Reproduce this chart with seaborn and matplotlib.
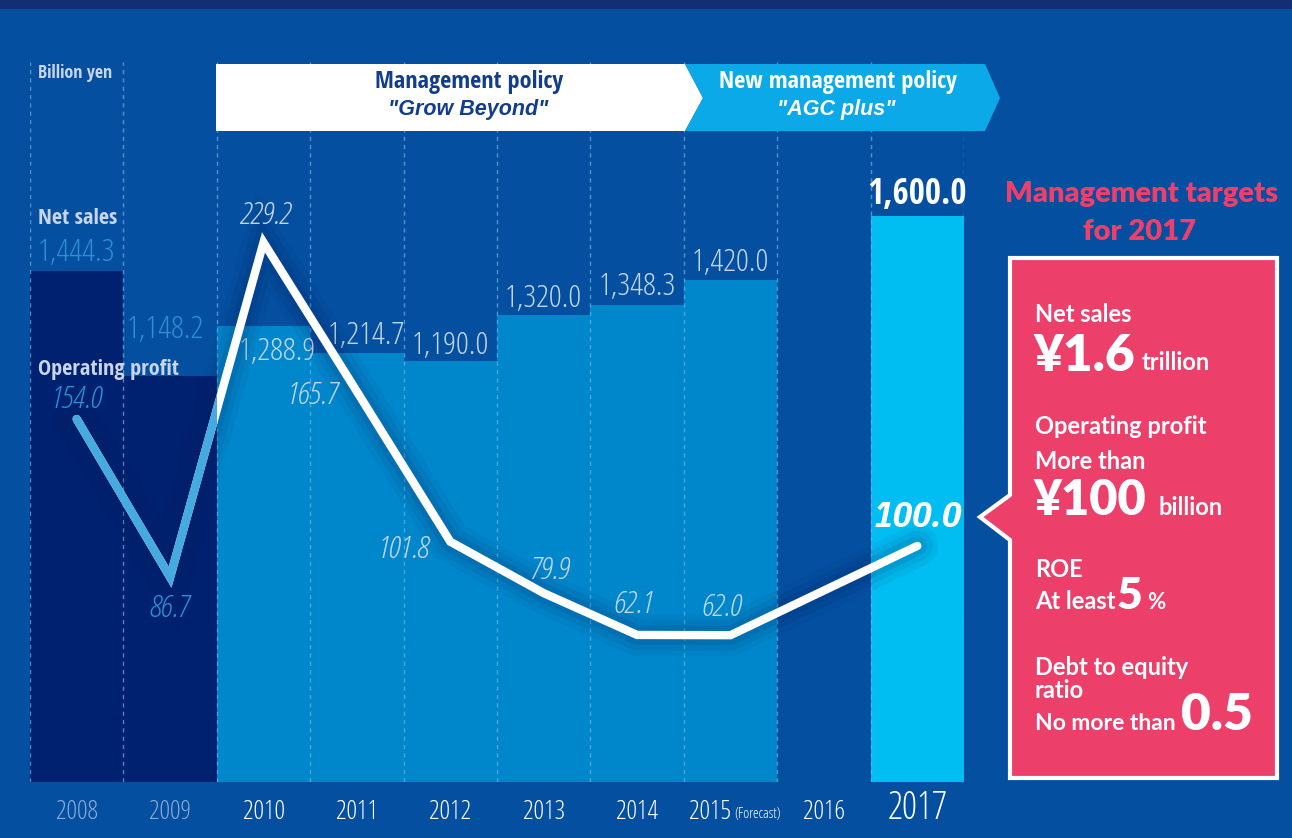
import numpy as np
import pandas as pd
import matplotlib
matplotlib.use("Agg")
import matplotlib.pyplot as plt
import seaborn as sns
from matplotlib.patches import Polygon, Rectangle
import matplotlib.patheffects as pe

# ---------------- data ----------------
years = ["2008", "2009", "2010", "2011", "2012", "2013", "2014", "2015", "2016", "2017"]
sales_years = ["2008", "2009", "2010", "2011", "2012", "2013", "2014", "2015", "2017"]
net_sales = [1444.3, 1148.2, 1288.9, 1214.7, 1190.0, 1320.0, 1348.3, 1420.0, 1600.0]
sales_labels = ["1,444.3", "1,148.2", "1,288.9", "1,214.7", "1,190.0", "1,320.0", "1,348.3", "1,420.0", "1,600.0"]
profit_years = ["2008", "2009", "2010", "2011", "2012", "2013", "2014", "2015", "2017"]
op_profit = [154.0, 86.7, 229.2, 165.7, 101.8, 79.9, 62.1, 62.0, 100.0]
profit_labels = ["154.0", "86.7", "229.2", "165.7", "101.8", "79.9", "62.1", "62.0", "100.0"]

# ---------------- style ----------------
W, H = 1292, 838
BG = "#054FA0"
NAVY = "#00216F"
MID = "#0087CB"
CYAN = "#00BDF2"
PINK = "#EC406B"
LBLUE = "#45AAE0"
PALE = "#C4D6EC"
DIMBLUE = "#2A90D2"

sns.set_theme(style="white")
plt.rcParams["font.family"] = ["Open Sans", "DejaVu Sans"]
LIGHT = dict(family=["Open Sans", "DejaVu Sans"], fontstretch="condensed", fontweight="light")
CBOLD = dict(family=["Open Sans Condensed", "DejaVu Sans"], fontweight="bold")
CBI = dict(family=["IBM Plex Sans Condensed", "DejaVu Sans"], fontweight="bold", style="italic")
HUM = ["Lato", "DejaVu Sans"]


def P(x, y):
    return (x / W, 1 - y / H)


fig = plt.figure(figsize=(W / 100, H / 100), dpi=100)
fig.patch.set_facecolor(BG)
fig.patches.append(Rectangle(P(0, 9), 1, 9 / H, transform=fig.transFigure,
                             facecolor="#112F72", edgecolor="none", zorder=0))

ax = fig.add_axes([30 / W, 56 / H, 934 / W, 720 / H])
ax.set_facecolor("none")

bar_palette = {"2008": NAVY, "2009": NAVY, "2010": MID, "2011": MID, "2012": MID,
               "2013": MID, "2014": MID, "2015": MID, "2016": MID, "2017": CYAN}
df = pd.DataFrame({"year": sales_years, "sales": net_sales})
sns.barplot(data=df, x="year", y="sales", order=years, hue="year", hue_order=years,
            palette=bar_palette, width=1.0, linewidth=0, saturation=1,
            legend=False, ax=ax, zorder=1)
ax.set_xlim(-0.5, 9.5)
ax.set_ylim(0, 2037)
for s in ax.spines.values():
    s.set_visible(False)
ax.set_xticks([])
ax.set_yticks([])
ax.set_xlabel("")
ax.set_ylabel("")

# dashed column separators
for b in np.arange(-0.5, 10.0, 1.0):
    ax.axvline(b, color="#6FB2EA", lw=1.0, ls=(0, (3, 3)), alpha=0.7, zorder=2)

# net sales labels
s_off = [(0, 18), (-5, 46), (14, -26), (9, 17), (0, 15), (0, 16), (0, 18), (0, 17), (0, 21)]
for yr, v, lab, off in zip(sales_years, net_sales, sales_labels, s_off):
    i = years.index(yr)
    if yr == "2017":
        kw = dict(color="white", fontsize=25, **CBOLD)
    elif yr in ("2008", "2009"):
        kw = dict(color=DIMBLUE, fontsize=23, **LIGHT)
    else:
        kw = dict(color=PALE, fontsize=23, **LIGHT)
    ax.annotate(lab, (i, v), xytext=off, textcoords="offset pixels", ha="center",
                va="center", zorder=6, **kw)

# year labels
for i, yr in enumerate(years):
    col = "#8AAAD6" if yr in ("2008", "2009") else "white"
    fs = 27 if yr == "2017" else 19
    if yr == "2015":
        ax.annotate("2015", (i, 0), xytext=(1, -30), textcoords="offset pixels",
                    xycoords=("data", "axes fraction"), ha="right", va="center",
                    color=col, fontsize=fs, **LIGHT)
        ax.annotate("(Forecast)", (i, 0), xytext=(4, -32), textcoords="offset pixels",
                    xycoords=("data", "axes fraction"), ha="left", va="center",
                    color=col, fontsize=10.5, **LIGHT)
    else:
        ax.annotate(yr, (i, 0), xytext=(0, -30 if yr != "2017" else -27),
                    textcoords="offset pixels", xycoords=("data", "axes fraction"),
                    ha="center", va="center", color=col, fontsize=fs, **LIGHT)

# operating profit line on twin axis
ax2 = ax.twinx()
ax2.set_ylim(-0.5, 306)
ax2.set_yticks([])
for s in ax2.spines.values():
    s.set_visible(False)
pos = [years.index(y) for y in profit_years]
shadow = [pe.Stroke(linewidth=30, foreground="#002060", alpha=0.05),
          pe.Stroke(linewidth=22, foreground="#002060", alpha=0.07),
          pe.Stroke(linewidth=14, foreground="#002060", alpha=0.10),
          pe.Normal()]
ax2.plot(pos, op_profit, color="white", lw=6, solid_capstyle="round",
         solid_joinstyle="miter", zorder=4, path_effects=shadow)
blue_part, = ax2.plot(pos[:3], op_profit[:3], color=LBLUE, lw=6,
                      solid_capstyle="round", solid_joinstyle="miter", zorder=5)
clip = Rectangle((-0.6, -50), 2.1, 500, transform=ax2.transData)
blue_part.set_clip_path(clip)

p_off = [(0, 20), (0, -31), (2, 27), (-44, -4), (-47, -8), (6, 23), (-4, 30), (-9, 28), (0, 28)]
for yr, v, lab, off in zip(profit_years, op_profit, profit_labels, p_off):
    i = years.index(yr)
    if yr == "2017":
        kw = dict(color="white", fontsize=26, **CBI)
    elif yr in ("2008", "2009"):
        kw = dict(color=DIMBLUE, fontsize=23, style="italic", **LIGHT)
    else:
        kw = dict(color=PALE, fontsize=23, style="italic", **LIGHT)
    ax2.annotate(lab, (i, v), xytext=off, textcoords="offset pixels", ha="center",
                 va="center", zorder=6, **kw)

# left legend texts
fig.text(*P(38, 73), "Billion yen", color="#C8D5EA", fontsize=13,
         ha="left", va="center", **CBOLD)
fig.text(*P(38, 218), "Net sales", color="#C8D5EA", fontsize=16,
         ha="left", va="center", **CBOLD)
fig.text(*P(38, 370), "Operating profit", color="#C8D5EA", fontsize=16,
         ha="left", va="center", **CBOLD)

# policy banners
white_b = Polygon([P(216, 64), P(685, 64), P(703, 98), P(685, 131), P(216, 131)],
                  closed=True, transform=fig.transFigure, facecolor="white",
                  edgecolor="none", zorder=10)
blue_b = Polygon([P(685, 64), P(985, 64), P(1000, 98), P(985, 131), P(685, 131), P(703, 98)],
                 closed=True, transform=fig.transFigure, facecolor="#0CA9E8",
                 edgecolor="none", zorder=10)
fig.patches.extend([white_b, blue_b])
fig.text(*P(469, 82), "Management policy", color="#123C8C", fontsize=17.5,
         ha="center", va="center", zorder=11, **CBOLD)
fig.text(*P(468, 110), "\"Grow Beyond\"", color="#123C8C", fontsize=15.5,
         fontweight="bold", style="italic", ha="center", va="center", zorder=11,
         family=["Liberation Sans", "DejaVu Sans"])
fig.text(*P(838, 82), "New management policy", color="white", fontsize=17.5,
         ha="center", va="center", zorder=11, **CBOLD)
fig.text(*P(836, 110), "\"AGC plus\"", color="white", fontsize=15.5,
         fontweight="bold", style="italic", ha="center", va="center", zorder=11,
         family=["Liberation Sans", "DejaVu Sans"])

# management targets panel
fig.text(*P(1142, 194), "Management targets", color=PINK, fontsize=21,
         fontweight="heavy", ha="center", va="center", family=HUM)
fig.text(*P(1140, 232), "for 2017", color=PINK, fontsize=21,
         fontweight="heavy", ha="center", va="center", family=HUM)
box = Polygon([P(1010, 258), P(1277, 258), P(1277, 778), P(1010, 778), P(1010, 540),
               P(980, 517), P(1010, 495)], closed=True, transform=fig.transFigure,
              facecolor=PINK, edgecolor="white", linewidth=3, zorder=10)
fig.patches.append(box)


def T(x, y, s, fs, w="bold", va="baseline"):
    fig.text(*P(x, y), s, color="white", fontsize=fs, fontweight=w, ha="left",
             va=va, family=HUM, zorder=11)


T(1035, 322, "Net sales", 17)
T(1033, 371, "¥1.6", 37, "heavy")
T(1142, 370, "trillion", 17)
T(1035, 434, "Operating profit", 17)
T(1035, 469, "More than", 17)
T(1033, 515, "¥100", 35, "heavy")
T(1158, 515, "billion", 17)
T(1035, 577, "ROE", 17)
T(1035, 609, "At least", 17)
T(1117, 609, "5", 32, "heavy")
T(1147, 609, "%", 16)
T(1035, 675, "Debt to equity", 17)
T(1035, 698, "ratio", 17)
T(1035, 730, "No more than", 16.5)
T(1181, 730, "0.5", 37, "heavy")

fig.savefig("out.png", dpi=100, facecolor=BG)
